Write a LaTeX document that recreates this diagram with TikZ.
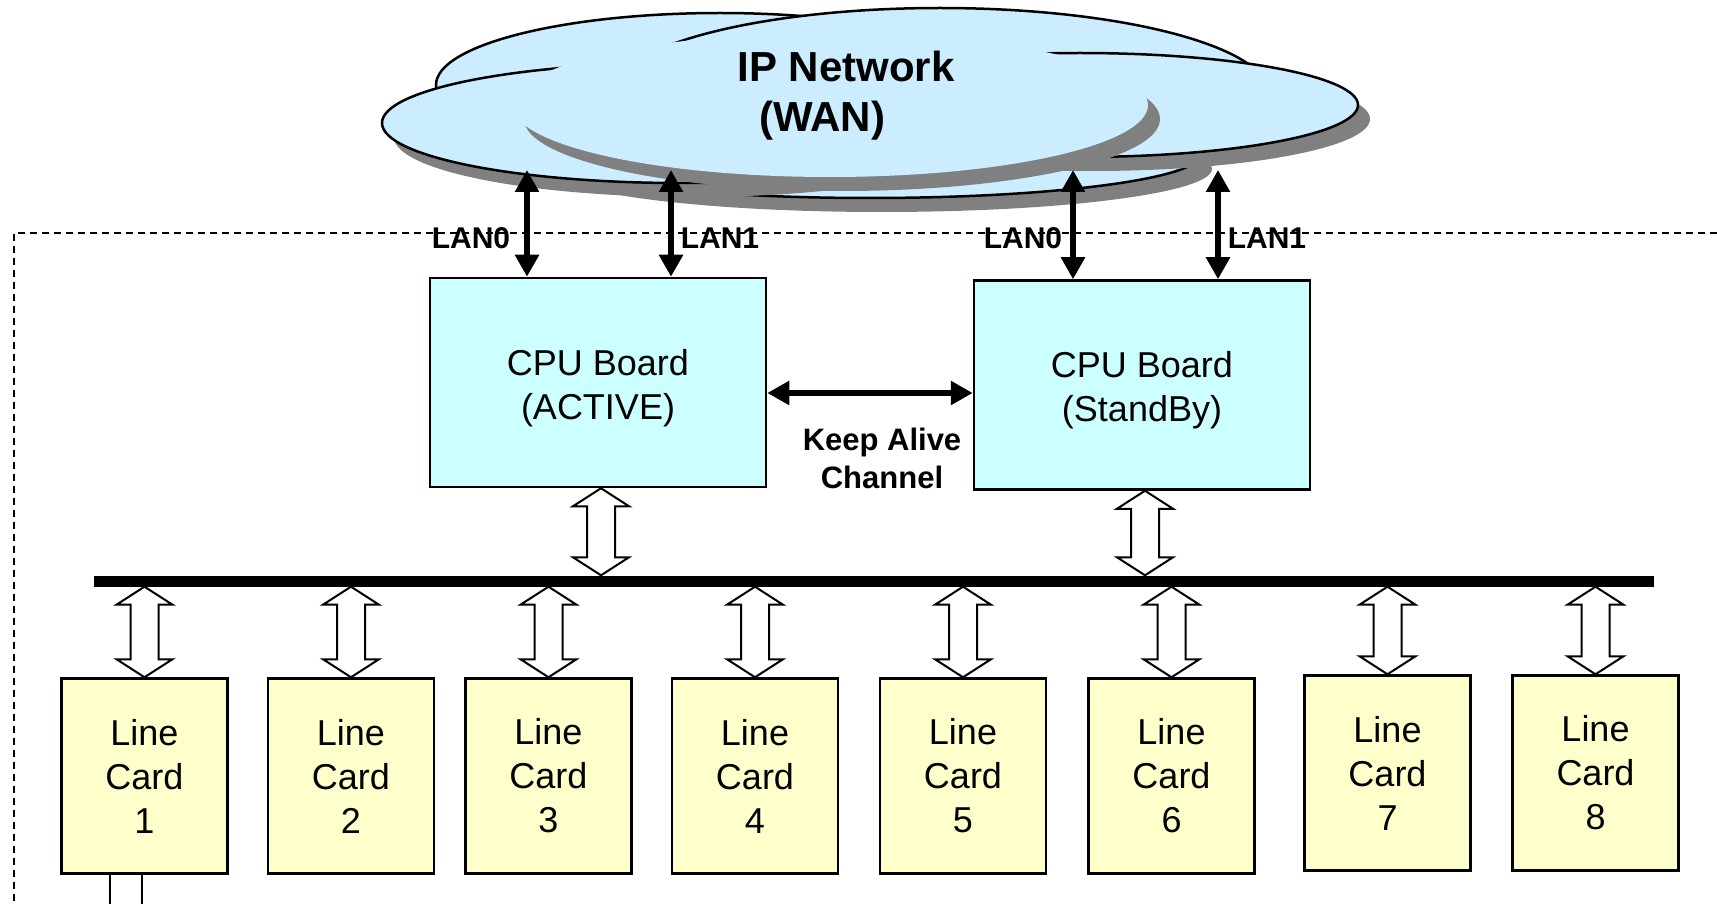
\documentclass[tikz,border=0pt]{standalone}
\usepackage{fontspec}
\setmainfont{Liberation Sans}
\usetikzlibrary{arrows.meta,calc}
\definecolor{cloudblue}{HTML}{CCECFF}
\definecolor{cpucyan}{HTML}{CCFFFF}
\definecolor{cardyellow}{HTML}{FFFFCC}
\definecolor{shadowgray}{HTML}{808080}
\newcommand\cloudlobe[5]{%
  \fill[lobeshadow] (#1+12,#2+14) ellipse [x radius=#3, y radius=#4];
  \path[#5] (#1,#2) ellipse [x radius=#3, y radius=#4];}
\newcommand\hollowarrow[2]{%
  \draw[hollow] let \p1=#1, \p2=#2 in
   (\x1,\y1) -- (\x1+28pt,\y1-18pt) -- (\x1+14pt,\y1-18pt) -- (\x1+14pt,\y2+18pt)
   -- (\x1+28pt,\y2+18pt) -- (\x1,\y2) -- (\x1-28pt,\y2+18pt) -- (\x1-14pt,\y2+18pt)
   -- (\x1-14pt,\y1-18pt) -- (\x1-28pt,\y1-18pt) -- cycle;}
\begin{document}
\begin{tikzpicture}[x=1pt,y=-1pt,
  lobe/.style={fill=cloudblue,draw=black,line width=2.5pt},
  lobeplain/.style={fill=cloudblue},
  lobeshadow/.style={fill=shadowgray},
  cpubox/.style={draw=black,line width=2.5pt,fill=cpucyan,minimum width=336pt,minimum height=209pt,inner sep=0pt},
  cputext/.style={align=center,font=\fontsize{36}{44}\selectfont,inner sep=0pt,yshift=-5.5pt},
  cardbox/.style={draw=black,line width=2.5pt,fill=cardyellow,minimum width=166pt,minimum height=195pt,
    align=center,font=\fontsize{36}{44}\selectfont,inner sep=0pt},
  lanlabel/.style={font=\bfseries\fontsize{30}{34}\selectfont,inner sep=0pt},
  wantext/.style={font=\bfseries\fontsize{42}{50}\selectfont,inner sep=0pt,anchor=base},
  katext/.style={font=\bfseries\fontsize{31}{38}\selectfont,align=center,inner sep=0pt},
  thickarrow/.style={line width=6pt,{Triangle[length=22pt,width=23pt]}-{Triangle[length=22pt,width=23pt]}},
  hollow/.style={draw=black,fill=white,line width=2pt,line join=miter},
  border/.style={line width=1.5pt,dash pattern=on 7pt off 5pt},
  busbar/.style={fill=black,minimum width=1560pt,minimum height=11pt,inner sep=0pt},
]
\useasboundingbox (0,0) rectangle (1717,904);

% ---- cloud ----
\cloudlobe{720}{85}{284}{72}{lobe}
\cloudlobe{940}{95}{330}{87}{lobe}
\cloudlobe{870}{155}{330}{43}{lobe}
\cloudlobe{680}{123}{298}{60}{lobe}
\cloudlobe{1080}{105}{278}{52}{lobe}
\cloudlobe{830}{105}{318}{72}{lobeplain}
\node[wantext] (wan1) at (846,82) {IP Network};
\node[wantext] (wan2) at (822,132) {(WAN)};

% ---- dashed chassis border ----
\draw[border] (1717,233) -- (14,233) -- (14,904);

% ---- boards ----
\node[cpubox,label={[cputext]center:{CPU Board\\(ACTIVE)}}] (cpuA) at (598,382.5) {};
\node[cpubox,label={[cputext]center:{CPU Board\\(StandBy)}}] (cpuS) at (1142,385) {};

\node[cardbox] (lc1) at (144.5,776) {Line\\Card\\1};
\node[cardbox] (lc2) at (351,776) {Line\\Card\\2};
\node[cardbox] (lc3) at (548.5,776) {Line\\Card\\3};
\node[cardbox] (lc4) at (755,776) {Line\\Card\\4};
\node[cardbox] (lc5) at (963,776) {Line\\Card\\5};
\node[cardbox] (lc6) at (1171.5,776) {Line\\Card\\6};
\node[cardbox] (lc7) at (1387.5,773) {Line\\Card\\7};
\node[cardbox] (lc8) at (1595.5,773) {Line\\Card\\8};

\node[busbar] (bus) at (874,581) {};

% ---- LAN links to the cloud ----
\coordinate (wA0) at (527,170);
\coordinate (wA1) at (671,170);
\coordinate (wS0) at (1073,170);
\coordinate (wS1) at (1218,170);
\draw[thickarrow] (wA0) -- (wA0 |- cpuA.north);
\draw[thickarrow] (wA1) -- (wA1 |- cpuA.north);
\draw[thickarrow] (wS0) -- (wS0 |- cpuS.north);
\draw[thickarrow] (wS1) -- (wS1 |- cpuS.north);
\node[lanlabel] (lA0) at (471,238) {LAN0};
\node[lanlabel] (lA1) at (720,238) {LAN1};
\node[lanlabel] (lS0) at (1023,238) {LAN0};
\node[lanlabel] (lS1) at (1267,238) {LAN1};

% ---- keep alive ----
\draw[thickarrow] ([yshift=-10.5pt]cpuA.east) -- ([yshift=-10.5pt]cpuA.east -| cpuS.west);
\node[katext] (ka) at (882,458) {Keep Alive\\Channel};

% ---- hollow bus arrows ----
\hollowarrow{([xshift=3pt]cpuA.south)}{([xshift=3pt]cpuA.south |- bus.north)}
\hollowarrow{([xshift=3pt]cpuS.south)}{([xshift=3pt]cpuS.south |- bus.north)}
\foreach \c in {lc1,lc2,lc3,lc4,lc5,lc6,lc7,lc8}{
  \hollowarrow{(\c.north |- bus.south)}{(\c.north)}
}

% ---- line card 1 outgoing link ----
\draw[line width=2pt] ([xshift=-34.5pt]lc1.south) -- ++(0,32);
\draw[line width=2pt] ([xshift=-2.5pt]lc1.south) -- ++(0,32);
\end{tikzpicture}
\end{document}
